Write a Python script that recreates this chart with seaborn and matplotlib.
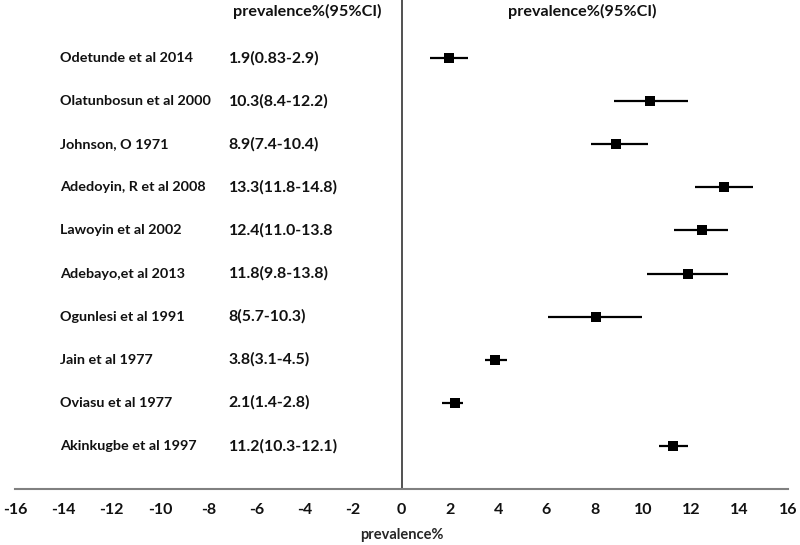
import pandas as pd
import matplotlib
matplotlib.use('Agg')
import matplotlib.pyplot as plt
import seaborn as sns

studies = ['Odetunde et al 2014', 'Olatunbosun et al 2000', 'Johnson, O 1971',
           'Adedoyin, R et al 2008', 'Lawoyin et al 2002', 'Adebayo,et al 2013',
           'Ogunlesi et al 1991', 'Jain et al 1977', 'Oviasu et al 1977',
           'Akinkugbe et al 1997']
ci_text = ['1.9(0.83-2.9)', '10.3(8.4-12.2)', '8.9(7.4-10.4)', '13.3(11.8-14.8)',
           '12.4(11.0-13.8', '11.8(9.8-13.8)', '8(5.7-10.3)', '3.8(3.1-4.5)',
           '2.1(1.4-2.8)', '11.2(10.3-12.1)']
# point estimates and bar ends as drawn in the figure
est = [1.97, 10.3, 8.9, 13.35, 12.45, 11.85, 8.05, 3.85, 2.2, 11.25]
low = [1.18, 8.8, 7.85, 12.15, 11.3, 10.15, 6.05, 3.45, 1.68, 10.67]
high = [2.75, 11.85, 10.2, 14.55, 13.5, 13.5, 9.95, 4.37, 2.55, 11.87]

xticks = list(range(-16, 17, 2))

df = pd.DataFrame({'study': studies, 'ci': ci_text, 'est': est,
                   'low': low, 'high': high})
df['row'] = range(len(df))

sns.set_style('white')
plt.rcParams['font.family'] = ['Lato', 'DejaVu Sans']

fig = plt.figure(figsize=(8, 5.45), dpi=100)
ax = fig.add_axes([15 / 800, 1 - 489 / 545, 773 / 800, 489 / 545])

ax.hlines(df['row'], df['low'], df['high'], color='black', lw=1.6, zorder=2)
sns.scatterplot(data=df, x='est', y='row', marker='s', s=60, color='black',
                edgecolor='black', linewidth=0, ax=ax, zorder=3)
ax.axvline(0, color='#222222', lw=1.1, zorder=1)

for _, r in df.iterrows():
    ax.text(-14.15, r['row'], r['study'], ha='left', va='center',
            fontsize=10.4, fontweight='bold', color='#111111')
    ax.text(-7.15, r['row'], r['ci'], ha='left', va='center',
            fontsize=11.4, fontweight='bold', color='#111111')

ax.text(-3.9, -1.07, 'prevalence%(95%CI)', ha='center', va='center',
        fontsize=11.6, fontweight='bold', color='#111111')
ax.text(7.5, -1.07, 'prevalence%(95%CI)', ha='center', va='center',
        fontsize=11.6, fontweight='bold', color='#111111')

ax.set_xlim(-16, 16)
ax.set_ylim(10, -1.346)
ax.set_xticks(xticks)
ax.set_xticklabels([str(t) for t in xticks], fontweight='bold', fontsize=11.5)
ax.set_yticks([])
ax.set_ylabel('')
ax.set_xlabel('prevalence%', fontweight='bold', fontsize=10.5, labelpad=8)
ax.tick_params(axis='x', direction='in', length=5, width=1.2, color='#808080',
               pad=10, labelcolor='#111111')
for side in ['left', 'top', 'right']:
    ax.spines[side].set_visible(False)
ax.spines['bottom'].set_color('#808080')
ax.spines['bottom'].set_linewidth(1.5)

fig.savefig('out.png', dpi=100)
